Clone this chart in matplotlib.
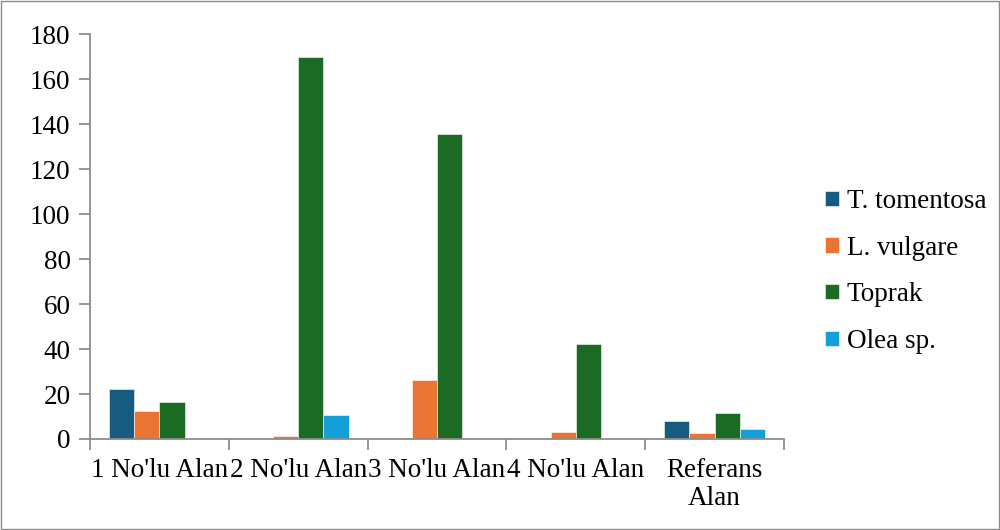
import numpy as np
import matplotlib.pyplot as plt
from matplotlib.patches import Rectangle

# ---------- data ----------
categories = ["1 No'lu Alan", "2 No'lu Alan", "3 No'lu Alan", "4 No'lu Alan", "Referans\nAlan"]
series_names = ["T. tomentosa", "L. vulgare", "Toprak", "Olea sp."]
t_tomentosa = [22.2, 0, 0, 0, 8.1]
l_vulgare = [12.4, 1.4, 26.4, 3.2, 2.5]
toprak = [16.3, 169.8, 135.6, 42.3, 11.4]
olea = [0, 10.8, 0, 0, 4.6]

colors = ["#175c80", "#ea7433", "#1b6b24", "#139fd8"]

plt.rcParams["font.family"] = ["Liberation Serif", "DejaVu Serif"]

fig = plt.figure(figsize=(10, 5.3), dpi=100)
ax = fig.add_axes([0.09, 0.1717, 0.694, 0.7641])

x = np.arange(len(categories))
bw = 0.182
for i, (name, vals) in enumerate(zip(series_names, [t_tomentosa, l_vulgare, toprak, olea])):
    ax.bar(x + (i - 1.5) * bw, vals, width=bw, color=colors[i], label=name,
           edgecolor="white", linewidth=0.4)

ax.set_xlim(-0.5, len(categories) - 0.5)
ax.set_ylim(0, 180)
ax.set_yticks(np.arange(0, 181, 20))

# category labels at centres, tick marks between categories
ax.set_xticks(x)
ax.set_xticklabels(categories, fontsize=19.5, linespacing=1.15)
ax.tick_params(axis="x", length=0, pad=14)
ax.set_xticks(np.arange(-0.5, len(categories)), minor=True)
ax.tick_params(axis="x", which="minor", length=8, color="#8c8c8c", width=1.3)
ax.tick_params(axis="y", length=8, color="#8c8c8c", width=1.3, labelsize=19.5, pad=6)

for s in ["top", "right"]:
    ax.spines[s].set_visible(False)
for s in ["left", "bottom"]:
    ax.spines[s].set_color("#8c8c8c")
    ax.spines[s].set_linewidth(1.3)

fig.legend(loc="center left", bbox_to_anchor=(0.825, 0.488), frameon=False,
           fontsize=19.5, handlelength=0.5, handleheight=0.5, handletextpad=0.3,
           labelspacing=0.8, borderaxespad=0, borderpad=0)

# thin gray border round the whole picture
fig.patches.append(Rectangle((0.001, 0.002), 0.998, 0.996, transform=fig.transFigure,
                             fill=False, edgecolor="#8c8c8c", linewidth=1.0))

fig.savefig("out.png", dpi=100)
